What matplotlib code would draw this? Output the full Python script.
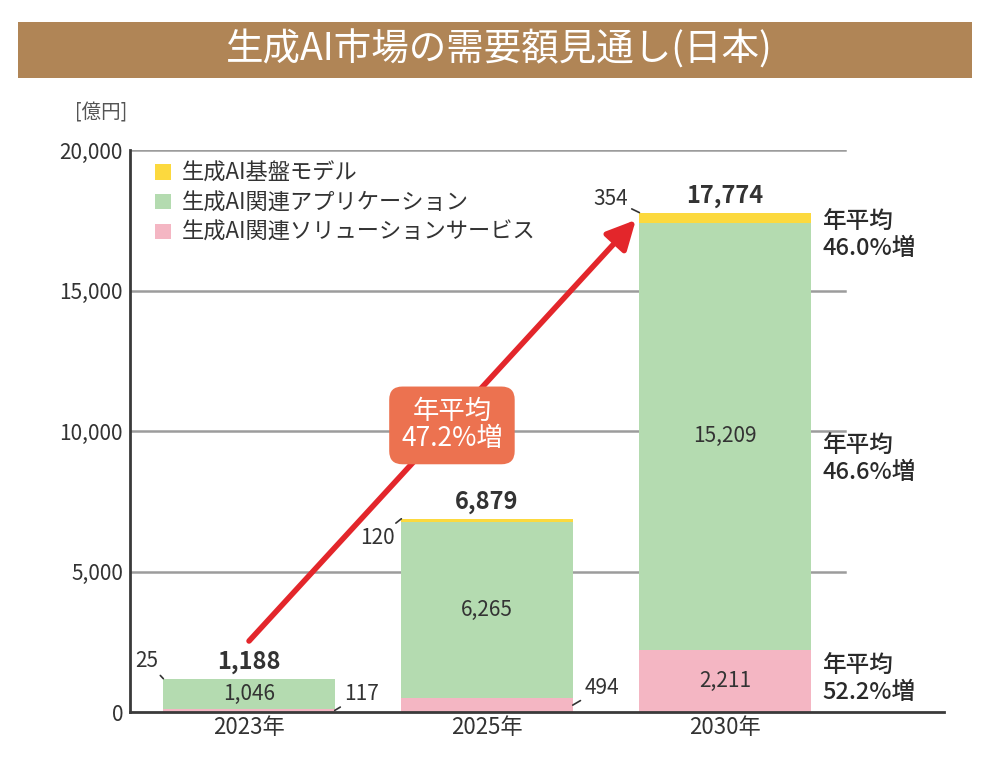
import matplotlib
matplotlib.use("Agg")
import matplotlib.pyplot as plt
from matplotlib.patches import Rectangle, Patch

plt.rcParams['font.family'] = ['Noto Sans CJK JP', 'DejaVu Sans']

# ---- data ----
categories = ["2023年", "2025年", "2030年"]
foundation = [25, 120, 354]          # 生成AI基盤モデル
applications = [1046, 6265, 15209]   # 生成AI関連アプリケーション
solutions = [117, 494, 2211]         # 生成AI関連ソリューションサービス
totals = [1188, 6879, 17774]
series_names = ["生成AI基盤モデル", "生成AI関連アプリケーション", "生成AI関連ソリューションサービス"]
yticks = [0, 5000, 10000, 15000, 20000]
growth_total = "年平均\n47.2%増"
growth_right = ["年平均\n46.0%増", "年平均\n46.6%増", "年平均\n52.2%増"]

c_found = "#fcd93e"
c_app = "#b4dbb0"
c_sol = "#f4b6c3"
txt = "#333333"

fig = plt.figure(figsize=(10.04, 7.64), dpi=100)

# title banner
fig.patches.append(Rectangle((0.018, 0.898), 0.950, 0.0733, transform=fig.transFigure,
                             facecolor="#b08556", edgecolor="none", zorder=0))
fig.text(0.497, 0.934, "生成AI市場の需要額見通し(日本)", ha="center", va="center",
         color="white", fontsize=27)

ax = fig.add_axes([0.1295, 0.068, 0.8108, 0.7356])
x = list(range(len(categories)))
w = 0.72
ax.set_xlim(-0.5, 2.92)
ax.set_ylim(0, 20000)

# gridlines (partial width)
for yv in yticks[1:]:
    ax.axhline(yv, xmin=0, xmax=0.878, color="#9c9c9c", lw=1.8, zorder=0)

bottom2 = [s + a for s, a in zip(solutions, applications)]
ax.bar(x, solutions, w, color=c_sol, zorder=2)
ax.bar(x, applications, w, bottom=solutions, color=c_app, zorder=2)
ax.bar(x, foundation, w, bottom=bottom2, color=c_found, zorder=2)

# spines
for s in ["top", "right"]:
    ax.spines[s].set_visible(False)
for s in ["left", "bottom"]:
    ax.spines[s].set_color("#3a3a3a")
    ax.spines[s].set_linewidth(2.0)
    ax.spines[s].set_zorder(3)

ax.set_yticks(yticks)
ax.set_yticklabels([f"{v:,}" for v in yticks], fontsize=15, color=txt)
ax.tick_params(axis="y", length=0, pad=5)
ax.set_xticks(x)
ax.set_xticklabels(categories, fontsize=16, color=txt)
ax.tick_params(axis="x", length=0, pad=3)

ax.text(-0.62, 20950, "[億円]", fontsize=14, color="#555555", ha="center", va="bottom")

# inner labels
for i in x:
    ax.text(i, solutions[i] + applications[i] / 2, f"{applications[i]:,}",
            ha="center", va="center", fontsize=15, color=txt, zorder=4)
ax.text(x[2], solutions[2] / 2, f"{solutions[2]:,}", ha="center", va="center",
        fontsize=15, color=txt, zorder=4)

# totals
for i in x:
    ax.annotate(f"{totals[i]:,}", (i, totals[i]), xytext=(0, 5), textcoords="offset pixels",
                ha="center", va="bottom", fontsize=17, fontweight="bold", color=txt)

# leader labels
lp = dict(arrowstyle="-", color=txt, lw=1.2, shrinkA=1, shrinkB=0)
ax.annotate(f"{foundation[0]}", (x[0] - w / 2, totals[0]), xytext=(-17, 18),
            textcoords="offset pixels", ha="center", va="center", fontsize=15, color=txt, arrowprops=lp)
ax.annotate(f"{solutions[0]}", (x[0] + w / 2, solutions[0] / 2), xytext=(27, 16),
            textcoords="offset pixels", ha="center", va="center", fontsize=15, color=txt, arrowprops=lp)
ax.annotate(f"{foundation[1]}", (x[1] - w / 2, totals[1]), xytext=(-24, -19),
            textcoords="offset pixels", ha="center", va="center", fontsize=15, color=txt, arrowprops=lp)
ax.annotate(f"{solutions[1]}", (x[1] + w / 2, solutions[1] / 2), xytext=(29, 17),
            textcoords="offset pixels", ha="center", va="center", fontsize=15, color=txt, arrowprops=lp)
ax.annotate(f"{foundation[2]}", (x[2] - w / 2, totals[2]), xytext=(-29, 14),
            textcoords="offset pixels", ha="center", va="center", fontsize=15, color=txt, arrowprops=lp)

# right-side growth labels
xr = x[2] + w / 2 + 0.05
rk = dict(ha="left", fontsize=17, color="#2a2a2a", linespacing=1.15, fontweight="medium")
ax.text(xr, totals[2] + 50, growth_right[0], va="top", **rk)
ax.text(xr, solutions[2] + applications[2] / 2 + 50, growth_right[1], va="top", **rk)
ax.text(xr, solutions[2] / 2 + 50, growth_right[2], va="center", **rk)

# big red arrow
start = (x[0], totals[0] + 1340)
end = (x[2] - w / 2 - 0.015, totals[2] - 260)
ax.annotate("", xy=end, xytext=start,
            arrowprops=dict(arrowstyle="-|>,head_length=0.7,head_width=0.35", color="#e3262b",
                            lw=4, mutation_scale=25, shrinkA=0, shrinkB=0), zorder=5)
mid = ((start[0] + end[0]) / 2 + 0.04, (start[1] + end[1]) / 2 + 180)
ax.text(mid[0], mid[1], growth_total, ha="center", va="center", fontsize=19, color="white",
        linespacing=1.0, zorder=6,
        bbox=dict(boxstyle="round,pad=0.45,rounding_size=0.5", facecolor="#ec7250", edgecolor="none"))

# legend
handles = [Patch(facecolor=c, edgecolor="none") for c in (c_found, c_app, c_sol)]
leg = ax.legend(handles, series_names, loc="upper left", bbox_to_anchor=(0.02, 0.995),
                frameon=False, fontsize=16, handlelength=0.7, handleheight=0.7,
                handletextpad=0.5, labelspacing=0.3, borderaxespad=0)
for t in leg.get_texts():
    t.set_color(txt)

fig.savefig("out.png", dpi=100, facecolor="white")
